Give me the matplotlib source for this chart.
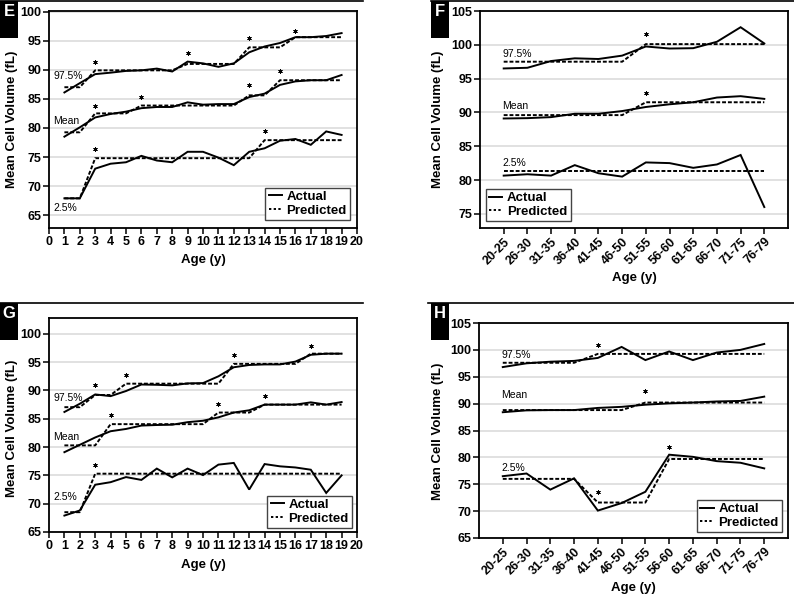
import matplotlib
matplotlib.use('Agg')
import matplotlib.pyplot as plt
import numpy as np
from matplotlib.patches import Rectangle
from matplotlib.lines import Line2D

plt.rcParams['font.family'] = ['Liberation Sans', 'DejaVu Sans']

# x categories
child_ages = list(range(1, 20))
adult_groups = ['20-25', '26-30', '31-35', '36-40', '41-45', '46-50',
                '51-55', '56-60', '61-65', '66-70', '71-75', '76-79']

# Panel E (children)
e_hi_actual = [86.1, 87.7, 89.25, 89.5, 89.8, 89.9, 90.2, 89.7, 91.4, 91.1, 90.5, 91.1, 93.0, 94.0, 94.6, 95.6, 95.6, 95.8, 96.3]
e_hi_pred = [87.0, 87.0, 89.9, 89.9, 89.9, 89.9, 89.9, 89.9, 91.0, 91.0, 91.0, 91.0, 93.85, 93.85, 93.85, 95.6, 95.6, 95.6, 95.6]
e_mean_actual = [78.5, 80.1, 81.8, 82.4, 82.8, 83.4, 83.6, 83.6, 84.4, 84.0, 84.1, 84.1, 85.3, 85.9, 87.4, 88.0, 88.2, 88.2, 89.1]
e_mean_pred = [79.25, 79.25, 82.5, 82.5, 82.5, 83.85, 83.85, 83.85, 83.85, 83.85, 83.85, 83.85, 85.6, 85.6, 88.2, 88.2, 88.2, 88.2, 88.2]
e_lo_actual = [67.9, 67.9, 73.0, 73.85, 74.1, 75.2, 74.4, 74.1, 75.9, 75.9, 74.9, 73.6, 75.9, 76.5, 77.8, 78.1, 77.1, 79.4, 78.8]
e_lo_pred = [67.9, 67.9, 74.8, 74.8, 74.8, 74.8, 74.8, 74.8, 74.8, 74.8, 74.8, 74.8, 74.8, 77.9, 77.9, 77.9, 77.9, 77.9, 77.9]
e_star_x = [3, 9, 13, 16, 3, 6, 13, 15, 3, 14]
e_star_y = [91.3, 92.8, 95.5, 96.7, 83.8, 85.4, 87.3, 89.8, 76.3, 79.5]

# Panel F (adults)
f_hi_actual = [96.5, 96.6, 97.6, 98.0, 97.9, 98.4, 99.75, 99.45, 99.5, 100.45, 102.6, 100.2]
f_hi_pred = [97.5, 97.5, 97.5, 97.5, 97.5, 97.5, 100.1, 100.1, 100.1, 100.1, 100.1, 100.1]
f_mean_actual = [89.1, 89.15, 89.3, 89.8, 89.8, 90.2, 90.8, 91.2, 91.5, 92.2, 92.4, 92.0]
f_mean_pred = [89.6, 89.6, 89.6, 89.6, 89.6, 89.6, 91.5, 91.5, 91.5, 91.5, 91.5, 91.5]
f_lo_actual = [80.65, 80.85, 80.65, 82.2, 81.0, 80.5, 82.6, 82.5, 81.8, 82.3, 83.7, 76.0]
f_lo_pred = [81.3, 81.3, 81.3, 81.3, 81.3, 81.3, 81.3, 81.3, 81.3, 81.3, 81.3, 81.3]
f_star_x = [6, 6]
f_star_y = [101.6, 92.9]

# Panel G (children)
g_hi_actual = [86.2, 87.65, 89.3, 89.0, 89.9, 91.05, 91.0, 90.9, 91.25, 91.3, 92.5, 94.1, 94.5, 94.6, 94.6, 95.1, 96.3, 96.5, 96.5]
g_hi_pred = [87.05, 87.05, 89.2, 89.2, 91.2, 91.2, 91.2, 91.2, 91.2, 91.2, 91.2, 94.7, 94.7, 94.7, 94.7, 94.7, 96.5, 96.5, 96.5]
g_mean_actual = [79.1, 80.4, 81.7, 82.8, 83.2, 83.8, 83.9, 83.95, 84.4, 84.65, 85.25, 86.1, 86.5, 87.5, 87.5, 87.5, 87.9, 87.5, 87.95]
g_mean_pred = [80.3, 80.3, 80.3, 84.05, 84.05, 84.05, 84.05, 84.05, 84.05, 84.05, 86.1, 86.1, 86.1, 87.5, 87.5, 87.5, 87.5, 87.5, 87.5]
g_lo_actual = [67.9, 68.8, 73.35, 73.8, 74.7, 74.2, 76.2, 74.65, 76.2, 75.05, 76.9, 77.2, 72.5, 77.0, 76.6, 76.4, 76.0, 71.9, 75.0]
g_lo_pred = [68.5, 68.5, 75.3, 75.3, 75.3, 75.3, 75.3, 75.3, 75.3, 75.3, 75.3, 75.3, 75.3, 75.3, 75.3, 75.3, 75.3, 75.3, 75.3]
g_star_x = [3, 5, 12, 17, 4, 11, 14, 3]
g_star_y = [91.0, 92.65, 96.3, 97.9, 85.7, 87.6, 89.1, 76.9]

# Panel H (adults)
h_hi_actual = [96.8, 97.5, 97.8, 97.95, 98.5, 100.55, 98.1, 99.7, 98.1, 99.5, 100.0, 101.1]
h_hi_pred = [97.6, 97.6, 97.6, 97.6, 99.25, 99.25, 99.25, 99.25, 99.25, 99.25, 99.25, 99.25]
h_mean_actual = [88.4, 88.75, 88.8, 88.8, 89.2, 89.4, 89.8, 90.05, 90.2, 90.4, 90.5, 91.3]
h_mean_pred = [88.8, 88.8, 88.8, 88.8, 88.8, 88.8, 90.2, 90.2, 90.2, 90.2, 90.2, 90.2]
h_lo_actual = [76.5, 77.0, 74.0, 76.1, 70.1, 71.5, 73.6, 80.5, 80.1, 79.3, 79.0, 77.95]
h_lo_pred = [76.0, 76.0, 76.0, 76.0, 71.6, 71.6, 71.6, 79.7, 79.7, 79.7, 79.7, 79.7]
h_star_x = [4, 6, 4, 7]
h_star_y = [100.9, 92.4, 73.6, 81.9]

W, H = 794, 594
fig = plt.figure(figsize=(W / 100, H / 100), dpi=100)


def px_axes(left, top, right, bottom):
    return fig.add_axes([left / W, 1 - bottom / H, (right - left) / W, (bottom - top) / H])


DASH = (0, (2.0, 1.0))


def draw_panel(ax, x, series, stars, labels, label_x, ylim, yticks, xlim, leg):
    for actual, pred in series:
        ax.plot(x, actual, color='black', lw=1.4, solid_joinstyle='miter')
        ax.plot(x, pred, color='black', lw=1.4, linestyle=DASH)
    ax.plot(stars[0], stars[1], ls='none', marker=(6, 2, 0), ms=3.2, mew=0.6, color='black')
    for txt, yv in labels:
        ax.text(label_x, yv, txt, fontsize=7.5, ha='left', va='center')
    ax.set_ylim(*ylim)
    ax.set_yticks(yticks)
    ax.set_xlim(*xlim)
    ax.grid(axis='y', color='#d9d9d9', lw=1.1)
    ax.set_axisbelow(True)
    for s in ax.spines.values():
        s.set_linewidth(1.3)
    ax.tick_params(direction='out', length=4, width=1.1, labelsize=9, pad=1.5)
    handles = [Line2D([], [], color='black', lw=1.4),
               Line2D([], [], color='black', lw=1.4, linestyle=(0, (1.2, 1.2)))]
    lg = ax.legend(handles, ['Actual', 'Predicted'], loc=leg[0], bbox_to_anchor=leg[1],
                   borderaxespad=0, fancybox=False, framealpha=1, edgecolor='#444444',
                   handlelength=1.0, handletextpad=0.35, labelspacing=0.1, borderpad=0.25,
                   prop={'size': 9.5, 'weight': 'bold'})
    lg.get_frame().set_linewidth(1.0)
    ax.set_ylabel('Mean Cell Volume (fL)', fontsize=9.5, fontweight='bold')
    ax.set_xlabel('Age (y)', fontsize=9.5, fontweight='bold')


def panel_tag(letter, left, top, line_left, line_right):
    fig.add_artist(Line2D([line_left / W, line_right / W], [1 - top / H, 1 - top / H],
                          color='black', lw=1.2, transform=fig.transFigure))
    fig.add_artist(Rectangle((left / W, 1 - (top + 37) / H), 18 / W, 37 / H,
                             facecolor='black', edgecolor='none', transform=fig.transFigure))
    fig.text((left + 9) / W, 1 - (top + 11) / H, letter, color='white', fontsize=12,
             fontweight='bold', ha='center', va='center')


# E
axE = px_axes(49, 11, 357, 228)
draw_panel(axE, child_ages,
           [(e_hi_actual, e_hi_pred), (e_mean_actual, e_mean_pred), (e_lo_actual, e_lo_pred)],
           (e_star_x, e_star_y), [('97.5%', 88.85), ('Mean', 81.2), ('2.5%', 66.2)], 0.28,
           (62.8, 100.1), range(65, 101, 5), (0, 20), ('lower right', (0.977, 0.037)))
axE.set_xticks(range(0, 21))
axE.yaxis.set_label_coords(-0.10, 0.5)
axE.xaxis.set_label_coords(0.5, -0.12)

# F
axF = px_axes(480, 11, 788, 228)
xa = np.arange(len(adult_groups))
draw_panel(axF, xa,
           [(f_hi_actual, f_hi_pred), (f_mean_actual, f_mean_pred), (f_lo_actual, f_lo_pred)],
           (f_star_x, f_star_y), [('97.5%', 98.7), ('Mean', 90.9), ('2.5%', 82.5)], -0.05,
           (72.9, 105.0), range(75, 106, 5), (-1, 12), ('lower left', (0.019, 0.032)))
axF.set_xticks(xa)
axF.set_xticklabels(adult_groups, rotation=45, ha='right', rotation_mode='anchor')
axF.yaxis.set_label_coords(-0.117, 0.5)
axF.xaxis.set_label_coords(0.5, -0.203)

# G
axG = px_axes(49, 318, 357, 532)
draw_panel(axG, child_ages,
           [(g_hi_actual, g_hi_pred), (g_mean_actual, g_mean_pred), (g_lo_actual, g_lo_pred)],
           (g_star_x, g_star_y), [('97.5%', 88.6), ('Mean', 81.7), ('2.5%', 71.1)], 0.28,
           (65, 102.8), range(65, 101, 5), (0, 20), ('lower right', (0.984, 0.019)))
axG.set_xticks(range(0, 21))
axG.yaxis.set_label_coords(-0.10, 0.486)
axG.xaxis.set_label_coords(0.5, -0.126)

# H
axH = px_axes(479, 323, 788, 538)
draw_panel(axH, xa,
           [(h_hi_actual, h_hi_pred), (h_mean_actual, h_mean_pred), (h_lo_actual, h_lo_pred)],
           (h_star_x, h_star_y), [('97.5%', 99.0), ('Mean', 91.55), ('2.5%', 78.1)], -0.05,
           (65, 105), range(65, 106, 5), (-1, 12), ('lower right', (0.98, 0.028)))
axH.set_xticks(xa)
axH.set_xticklabels(adult_groups, rotation=45, ha='right', rotation_mode='anchor')
axH.yaxis.set_label_coords(-0.113, 0.497)
axH.xaxis.set_label_coords(0.5, -0.205)

for ax in (axE, axF, axG, axH):
    for t in ax.get_xticklabels() + ax.get_yticklabels():
        t.set_fontweight('bold')

panel_tag('E', 0, 0.5, 0, 363)
panel_tag('F', 431, 0.5, 431, 794)
panel_tag('G', 0, 303, 0, 363)
panel_tag('H', 431, 303, 428, 794)

fig.savefig('out.png', dpi=100)
